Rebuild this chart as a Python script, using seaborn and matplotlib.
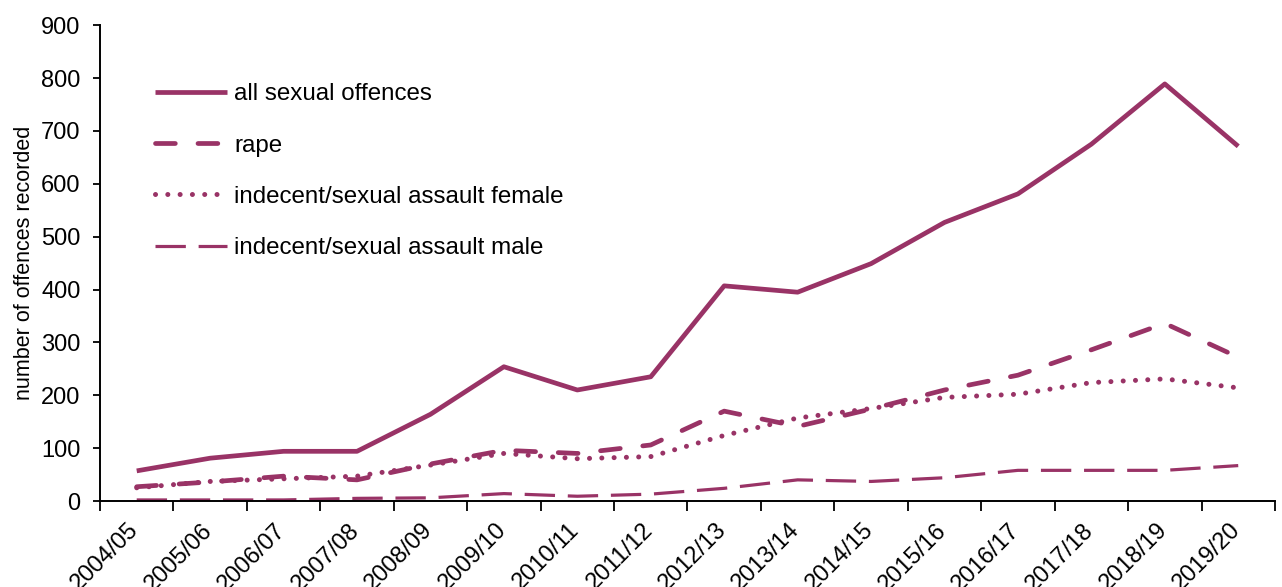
import numpy as np
import pandas as pd
import seaborn as sns
import matplotlib.pyplot as plt
import matplotlib.transforms as mtrans

# --- data ---
years = ["2004/05", "2005/06", "2006/07", "2007/08", "2008/09", "2009/10",
         "2010/11", "2011/12", "2012/13", "2013/14", "2014/15", "2015/16",
         "2016/17", "2017/18", "2018/19", "2019/20"]
all_offences = [57, 81, 94, 94, 164, 254, 210, 235, 407, 395, 449, 527, 581, 675, 789, 671]
rape = [27, 36, 47, 40, 70, 96, 90, 106, 170, 141, 174, 210, 238, 286, 336, 272]
female_assault = [25, 37, 42, 47, 68, 90, 80, 84, 124, 157, 175, 196, 202, 224, 231, 214]
male_assault = [2, 2, 2, 5, 6, 14, 9, 13, 24, 40, 37, 44, 58, 58, 58, 67]

PLUM = "#993366"

sns.set_theme(style="white")
plt.rcParams['font.family'] = ['Liberation Sans', 'DejaVu Sans']
plt.rcParams.update({"text.color": "black", "axes.labelcolor": "black",
                     "xtick.color": "black", "ytick.color": "black"})

df = pd.DataFrame({
    "pos": np.arange(len(years)),
    "all": all_offences,
    "rape": rape,
    "female": female_assault,
    "male": male_assault,
})

fig = plt.figure(figsize=(12.82, 5.87), dpi=100)
ax = fig.add_axes([0.078, 0.1465, 0.9165, 0.8105])

sns.lineplot(data=df, x="pos", y="all", ax=ax, color=PLUM, linewidth=3.4,
             solid_capstyle="butt", label="all sexual offences")
sns.lineplot(data=df, x="pos", y="rape", ax=ax, color=PLUM, linewidth=3.4,
             linestyle=(0, (4.2, 4.8)), dash_capstyle="round", label="rape")
sns.lineplot(data=df, x="pos", y="female", ax=ax, color=PLUM, linewidth=3.6,
             linestyle=(0, (0.01, 2.45)), dash_capstyle="round",
             label="indecent/sexual assault female")
sns.lineplot(data=df, x="pos", y="male", ax=ax, color=PLUM, linewidth=2.3,
             linestyle=(0, (9.5, 4.0)), dash_capstyle="butt",
             label="indecent/sexual assault male")

# axes ranges and ticks (tick marks between categories, labels at centres)
ax.set_xlim(-0.5, len(years) - 0.5)
ax.set_ylim(0, 900)
ax.set_yticks(np.arange(0, 901, 100))
ax.set_xticks(np.arange(len(years) + 1) - 0.5)
ax.set_xticklabels([])
ax.set_xticks(np.arange(len(years)), minor=True)
ax.set_xticklabels(years, minor=True, rotation=45, ha="right", va="top",
                   fontsize=17)

ax.tick_params(axis="x", which="major", direction="out", length=7, width=1.3,
               color="black", bottom=True)
ax.tick_params(axis="x", which="minor", length=0, pad=13, bottom=True)
ax.tick_params(axis="y", direction="out", length=5, width=1.3, color="black",
               labelsize=17, left=True, pad=9)

# nudge rotated labels right (after tick_params, which resets transforms)
offset = mtrans.ScaledTranslation(0.065, 0, fig.dpi_scale_trans)
for lab in ax.get_xticklabels(minor=True):
    lab.set_transform(lab.get_transform() + offset)

for side in ["top", "right"]:
    ax.spines[side].set_visible(False)
for side in ["left", "bottom"]:
    ax.spines[side].set_color("black")
    ax.spines[side].set_linewidth(1.4)

ax.set_xlabel("")
ax.set_ylabel("number of offences recorded", fontsize=15.5)
ax.yaxis.set_label_coords(-0.055, 0.5)
ax.grid(False)

ax.legend(loc="upper left", bbox_to_anchor=(0.047, 0.878), frameon=False,
          fontsize=17.4, handlelength=2.95, handletextpad=0.33,
          labelspacing=1.21, borderpad=0, borderaxespad=0)

fig.savefig("out.png", dpi=100)
